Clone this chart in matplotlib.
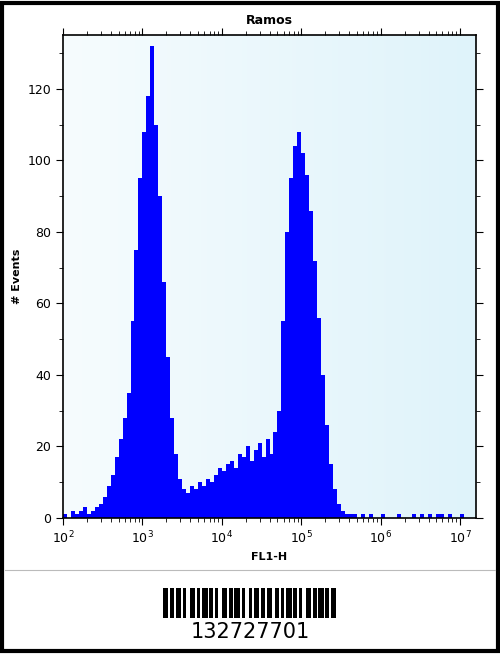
import numpy as np
import matplotlib
matplotlib.use("Agg")
import matplotlib.pyplot as plt
from matplotlib.patches import Rectangle
from matplotlib.colors import LinearSegmentedColormap

bin_start_log = 2.0
bin_step_log = 0.05
counts = [1,0,2,1,2,3,1,2,3,4,
          6,9,12,17,22,28,35,55,75,95,
          108,118,132,110,90,66,45,28,18,11,
          8,7,9,8,10,9,11,10,12,14,
          13,15,16,14,18,17,20,16,19,21,
          17,22,18,24,30,55,80,95,104,108,
          102,96,86,72,56,40,26,15,8,4,
          2,1,1,1,0,1,0,1,0,0,
          1,0,0,0,1,0,0,0,1,0,
          1,0,1,0,1,1,0,1,0,0,1,0,0,0]
title = "Ramos"
xlabel = "FL1-H"
ylabel = "# Events"
barcode_text = "132727701"
barcode_widths = [3,1,2,1,3,1,2,2,3,1,2,1,3,1,2,1,2,2,3,1,2,1,3,1,2,2,2,1,3,1,2,1,3,2,2,1,2,1,3,1,2,1,2,2,3,1,2,1,3,1,2,1,3,1]

edges = 10 ** (bin_start_log + bin_step_log * np.arange(len(counts) + 1))

fig = plt.figure(figsize=(5, 6.54), dpi=100)
ax = fig.add_axes([0.126, 0.208, 0.826, 0.738])
grad = np.linspace(0, 1, 256).reshape(1, -1)
cmap = LinearSegmentedColormap.from_list("bg", ["#f6fcfe", "#dff3fa"])
ax.imshow(grad, aspect="auto", cmap=cmap, extent=[0, 1, 0, 1], transform=ax.transAxes, zorder=0)
ax.stairs(counts, edges, fill=True, color="#0000ff", zorder=2)
ax.set_xscale("log")
ax.set_xlim(100, 10 ** 7.2)
ax.set_ylim(0, 135)
ax.set_yticks([0, 20, 40, 60, 80, 100, 120])
ax.set_yticks(np.arange(0, 135, 10), minor=True)
ax.tick_params(which="both", direction="out", top=True, right=True, labelsize=9)
ax.tick_params(which="major", length=5)
ax.tick_params(which="minor", length=3)
for s in ax.spines.values():
    s.set_linewidth(1.2)
ax.set_title(title, fontsize=9, fontweight="bold", pad=8)
ax.set_xlabel(xlabel, fontsize=8, fontweight="bold")
ax.set_ylabel(ylabel, fontsize=8, fontweight="bold")

fig.add_artist(Rectangle((0.004, 0.004), 0.992, 0.992, transform=fig.transFigure, fill=False, lw=3, ec="black"))
fig.add_artist(plt.Line2D([0.01, 0.99], [1 - 570/654]*2, transform=fig.transFigure, color="#bbbbbb", lw=0.8))

x0, x1 = 163/500, 338/500
total = sum(barcode_widths)
unit = (x1 - x0) / total
x = x0
for i, w in enumerate(barcode_widths):
    if i % 2 == 0:
        fig.add_artist(Rectangle((x, 1 - 618/654), w * unit, 30/654, transform=fig.transFigure, color="black", lw=0))
    x += w * unit
fig.text(0.5, 1 - 632/654, barcode_text, ha="center", va="center", fontsize=15)
fig.savefig("out.png", dpi=100)
